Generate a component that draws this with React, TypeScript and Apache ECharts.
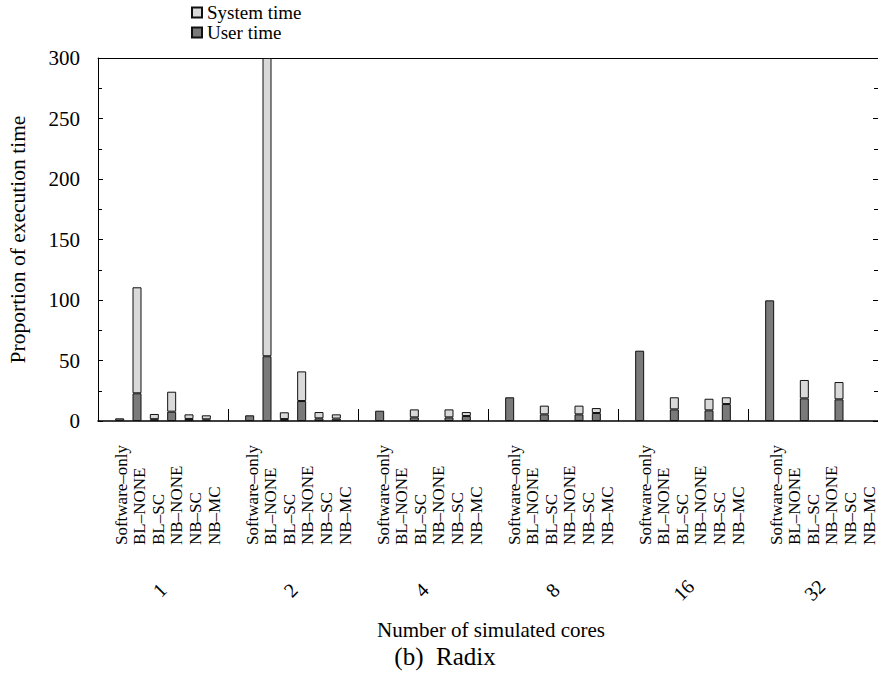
import React, { useEffect, useRef } from "react";
import * as echarts from "echarts";

const groups = ["1", "2", "4", "8", "16", "32"];
const configs = ["Software–only", "BL–NONE", "BL–SC", "NB–NONE", "NB–SC", "NB–MC"];

// per group (number of simulated cores), per configuration
const userTime: number[][] = [
  [2.2, 22.9, 1.5, 7.7, 1.7, 1.4],
  [4.7, 53.5, 1.6, 16.5, 2.2, 2.0],
  [8.5, 0, 3.0, 0, 3.0, 4.1],
  [19.6, 0, 5.5, 0, 5.5, 6.6],
  [58.1, 0, 9.6, 0, 8.8, 14.0],
  [99.7, 0, 18.7, 0, 17.9, 0],
];
const systemTime: number[][] = [
  [0, 87.6, 4.3, 16.5, 3.8, 3.3],
  [0, 246.5, 5.6, 24.5, 5.2, 3.5],
  [0, 0, 6.6, 0, 6.6, 3.3],
  [0, 0, 7.2, 0, 7.2, 4.1],
  [0, 0, 10.0, 0, 9.6, 5.6],
  [0, 0, 15.2, 0, 14.3, 0],
];
const yTicks = [0, 50, 100, 150, 200, 250, 300];

const FONT = "'Liberation Serif', 'Times New Roman', Times, 'DejaVu Serif', serif";
const GRID_LEFT = 98;
const GRID_TOP = 58;
const GRID_W = 786;
const GRID_H = 363;
const SLOTS_PER_GROUP = 15; // half-width slots per group: 2 empty, 6 bars with gaps, 1 empty
const FIRST_SLOT = 2;

export default function App() {
  const ref = useRef<HTMLDivElement>(null);
  useEffect(() => {
    if (!ref.current) return;
    const chart = echarts.init(ref.current, null, { renderer: "svg" });
    const nSlots = groups.length * SLOTS_PER_GROUP;
    const pxPerSlot = GRID_W / nSlots;

    const cats: string[] = [];
    const userData: any[] = [];
    const sysData: any[] = [];
    groups.forEach((g, gi) => {
      for (let k = 0; k < SLOTS_PER_GROUP; k++) {
        cats.push(`${g}#${k}`);
        userData.push("-");
        sysData.push("-");
      }
      configs.forEach((c, ci) => {
        const idx = gi * SLOTS_PER_GROUP + FIRST_SLOT + ci * 2;
        const u = userTime[gi][ci];
        const s = systemTime[gi][ci];
        if (u > 0 || s > 0) {
          userData[idx] = u;
          sysData[idx] = s > 0 ? s : "-";
        }
      });
    });

    const graphics: any[] = [];
    groups.forEach((g, gi) => {
      const gx = GRID_LEFT + gi * SLOTS_PER_GROUP * pxPerSlot;
      configs.forEach((c, ci) => {
        graphics.push({
          type: "text",
          x: gx + 23 + ci * 18.6,
          y: 545,
          rotation: Math.PI / 2,
          style: {
            text: c,
            font: `17px ${FONT}`,
            fill: "#000",
            align: "left",
            verticalAlign: "middle",
          },
        });
      });
      graphics.push({
        type: "text",
        x: gx + (SLOTS_PER_GROUP * pxPerSlot) / 2 - 4,
        y: 590,
        rotation: Math.PI / 4,
        style: {
          text: g,
          font: `20px ${FONT}`,
          fill: "#000",
          align: "center",
          verticalAlign: "middle",
        },
      });
    });
    graphics.push({
      type: "text",
      x: 18,
      y: GRID_TOP + GRID_H / 2,
      rotation: Math.PI / 2,
      style: {
        text: "Proportion of execution time",
        font: `21.5px ${FONT}`,
        fill: "#000",
        align: "center",
        verticalAlign: "middle",
      },
    });
    graphics.push({
      type: "text",
      x: GRID_LEFT + GRID_W / 2,
      y: 630,
      style: {
        text: "Number of simulated cores",
        font: `21px ${FONT}`,
        fill: "#000",
        align: "center",
        verticalAlign: "middle",
      },
    });
    graphics.push({
      type: "text",
      x: 445,
      y: 656,
      style: {
        text: "(b)  Radix",
        font: `25px ${FONT}`,
        fill: "#000",
        align: "center",
        verticalAlign: "middle",
      },
    });

    const yAxisBase = {
      type: "value",
      min: yTicks[0],
      max: yTicks[yTicks.length - 1],
      interval: yTicks[1] - yTicks[0],
      axisLine: { show: true, onZero: false, lineStyle: { color: "#000", width: 1 } },
      axisTick: { show: true, inside: true, length: 5, lineStyle: { color: "#000" } },
      minorTick: { show: true, splitNumber: 2, length: 4, lineStyle: { color: "#000" } },
      splitLine: { show: false },
    };

    chart.setOption({
      animation: false,
      backgroundColor: "#fff",
      textStyle: { fontFamily: FONT, color: "#000" },
      grid: { left: GRID_LEFT, top: GRID_TOP, width: GRID_W, height: GRID_H, containLabel: false },
      legend: {
        data: ["System time", "User time"],
        orient: "vertical",
        left: 191,
        top: 3,
        padding: 0,
        itemWidth: 10,
        itemHeight: 10,
        itemGap: 1,
        icon: "rect",
        textStyle: { fontFamily: FONT, fontSize: 19, color: "#000" },
      },
      xAxis: [
        {
          type: "category",
          data: cats,
          boundaryGap: true,
          position: "bottom",
          axisLine: { show: true, onZero: false, lineStyle: { color: "#000", width: 1.5 } },
          axisTick: {
            show: true,
            inside: true,
            length: 12,
            interval: (idx: number) => idx % SLOTS_PER_GROUP === 0,
            lineStyle: { color: "#000" },
          },
          axisLabel: { show: false },
          splitLine: { show: false },
        },
        {
          type: "value",
          min: 0,
          max: 1,
          position: "top",
          axisLine: { show: true, onZero: false, lineStyle: { color: "#000", width: 1 } },
          axisTick: { show: false },
          axisLabel: { show: false },
          splitLine: { show: false },
        },
      ],
      yAxis: [
        {
          ...yAxisBase,
          position: "left",
          axisLabel: { color: "#000", fontSize: 21, margin: 18, fontFamily: FONT },
        },
        {
          ...yAxisBase,
          position: "right",
          axisLabel: { show: false },
        },
      ],
      series: [
        {
          name: "User time",
          type: "bar",
          stack: "total",
          barWidth: 9,
          xAxisIndex: 0,
          yAxisIndex: 0,
          data: userData,
          itemStyle: { color: "#7a7a7a", borderColor: "#111", borderWidth: 1 },
        },
        {
          name: "System time",
          type: "bar",
          stack: "total",
          barWidth: 9,
          xAxisIndex: 0,
          yAxisIndex: 0,
          data: sysData,
          itemStyle: { color: "#d9d9d9", borderColor: "#111", borderWidth: 1 },
        },
      ],
      graphic: graphics,
    });
    return () => chart.dispose();
  }, []);
  return (
    <div
      ref={ref}
      style={{ position: "absolute", left: 0, top: 0, width: 878, height: 687 }}
    />
  );
}
